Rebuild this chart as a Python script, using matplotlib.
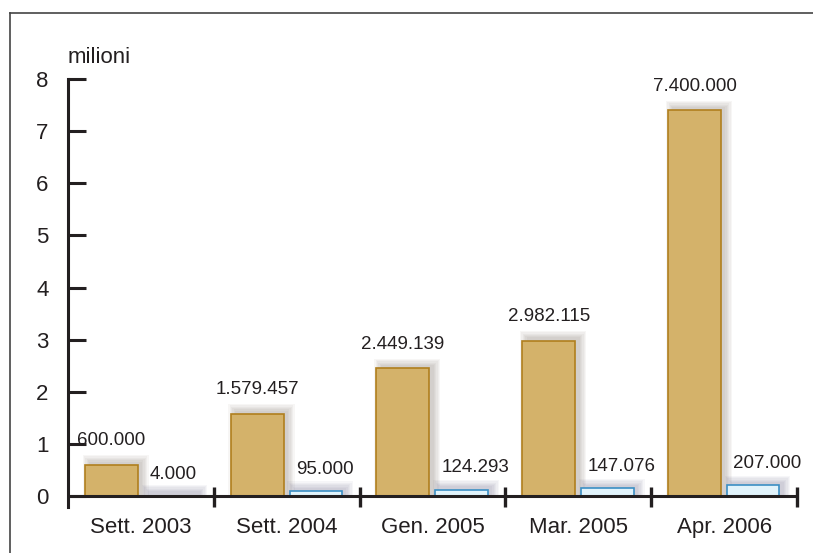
import matplotlib.pyplot as plt
from matplotlib.patches import Rectangle
from matplotlib.lines import Line2D

plt.rcParams['font.family'] = ['Liberation Sans', 'DejaVu Sans']

# data
categories = ['Sett. 2003', 'Sett. 2004', 'Gen. 2005', 'Mar. 2005', 'Apr. 2006']
gold_vals = [600000, 1579457, 2449139, 2982115, 7400000]
blue_vals = [4000, 95000, 124293, 147076, 207000]
gold_labels = ['600.000', '1.579.457', '2.449.139', '2.982.115', '7.400.000']
blue_labels = ['4.000', '95.000', '124.293', '147.076', '207.000']
yticks = [0, 1, 2, 3, 4, 5, 6, 7, 8]

gold_m = [v / 1e6 for v in gold_vals]
blue_m = [v / 1e6 for v in blue_vals]
x = list(range(len(categories)))

fig = plt.figure(figsize=(8.13, 5.53), dpi=100)
ax = fig.add_axes([0.0836, 0.0832, 0.8967, 0.7739])
ax.set_xlim(0, 5)
ax.set_ylim(-0.21, 8)

gold_x = [i + 0.116 for i in x]
blue_x = [i + 0.52 for i in x]
w_gold, w_blue = 0.363, 0.36


def soft_shadow(x0, w, h, color):
    # stack of translucent rects to fake a blurred drop shadow
    dx, dy = 0.03, 0.06
    for n in range(6):
        ex = 0.009 * n
        ey = 0.025 * n
        ax.add_patch(Rectangle((x0 + dx - ex, 0), w + 2 * ex, h + dy + ey,
                               facecolor=color, edgecolor='none', alpha=0.055, zorder=1))


for gx, bx, g, b in zip(gold_x, blue_x, gold_m, blue_m):
    soft_shadow(gx, w_gold, g, '#6e5f55')
    soft_shadow(bx, w_blue, max(b, 0.03), '#5e5c80')

ax.bar(gold_x, gold_m, width=w_gold, align='edge', color='#d4b26a',
       edgecolor='#b07f1e', linewidth=1.2, zorder=3)
ax.bar(blue_x, blue_m, width=w_blue, align='edge', color='#e1f3fb',
       edgecolor='#3b8fc4', linewidth=1.2, zorder=3)

for gx, g, lab in zip(gold_x, gold_m, gold_labels):
    ax.annotate(lab, (gx + w_gold / 2, g), xytext=(0, 11), textcoords='offset points',
                ha='center', va='bottom', fontsize=13.5, color='#231f20', zorder=5)
for bx, b, lab in zip(blue_x, blue_m, blue_labels):
    ax.annotate(lab, (bx, b), xytext=(4.5, 9.5), textcoords='offset points',
                ha='left', va='bottom', fontsize=13.5, color='#231f20', zorder=5)

# axes styling
for s in ['top', 'right', 'bottom']:
    ax.spines[s].set_visible(False)
ax.spines['left'].set_linewidth(2.2)
ax.spines['left'].set_color('#231f20')
ax.set_yticks(yticks)
ax.set_yticklabels([str(t) for t in yticks])
ax.tick_params(axis='y', direction='in', length=13, width=2.2, pad=14,
               labelsize=16, colors='#231f20')
ax.set_xticks([i + 0.5 for i in x])
ax.set_xticklabels(categories)
ax.tick_params(axis='x', length=0, pad=7, labelsize=16, colors='#231f20')

ax.plot([0, 5], [0, 0], color='#231f20', lw=2.2, clip_on=False, zorder=4,
        solid_capstyle='butt')
for i in x:
    ax.plot([i + 1, i + 1], [-0.21, 0.17], color='#231f20', lw=2.4, clip_on=False,
            zorder=4, solid_capstyle='butt')

ax.text(0, 8.42, 'milioni', ha='left', va='center', fontsize=16, color='#231f20')

# outer frame (top and left edges)
fig.add_artist(Line2D([10 / 813, 1.0], [1 - 13 / 553, 1 - 13 / 553],
                      transform=fig.transFigure, color='#444444', lw=1.2))
fig.add_artist(Line2D([10 / 813, 10 / 813], [0, 1 - 13 / 553],
                      transform=fig.transFigure, color='#444444', lw=1.2))

fig.savefig('out.png', dpi=100)
